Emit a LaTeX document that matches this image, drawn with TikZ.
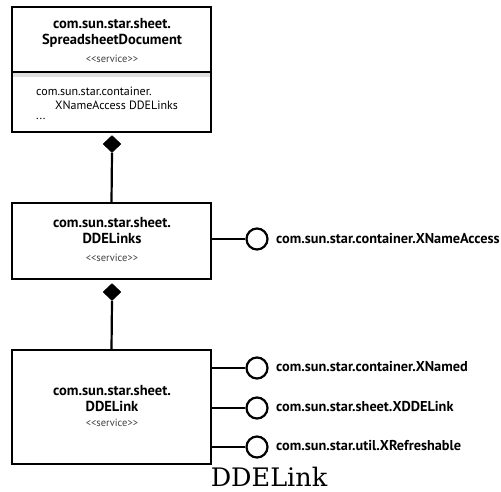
\documentclass[tikz,border=0pt]{standalone}
\usepackage{fontspec}
\setmainfont{PT Sans}
\newfontfamily\capfont{DejaVu Serif}
\usetikzlibrary{shapes.geometric}
\newcommand{\stereotxt}{<\kern0pt<service>\kern0pt>}
\begin{document}
\begin{tikzpicture}[x=1pt,y=-1pt,
  box/.style={draw=black,line width=1.6pt,fill=white,rectangle,minimum width=199pt,inner sep=0pt},
  ttl/.style={font=\fontsize{14.5}{16}\selectfont\bfseries,align=center,inner sep=0pt},
  stereo/.style={font=\fontsize{10.5}{12}\selectfont,text=black!75,inner sep=0pt},
  attr/.style={font=\fontsize{12}{14}\selectfont,inner sep=0pt,anchor=west},
  comp/.style={diamond,fill=black,draw=black,minimum width=18pt,minimum height=17pt,inner sep=0pt},
  conn/.style={line width=2.2pt},
  iface/.style={circle,draw=black,line width=2.2pt,fill=white,minimum size=21pt,inner sep=0pt},
  ilabel/.style={font=\fontsize{14.3}{16}\selectfont\bfseries,anchor=west,inner sep=0pt}]
\useasboundingbox (0,0) rectangle (501,491);
% top box
\node[box,minimum height=125pt] (top) at (111.5,69.5) {};
\fill[black!12] (12.8,72.8) rectangle (210.2,77);
\draw[line width=1.6pt] (top.west |- 0,72) coordinate (dl) -- (top.east |- 0,72) coordinate (dr);
\node[ttl] (topt) at (112,33) {com.sun.star.sheet.\\SpreadsheetDocument};
\node[stereo] (tops) at (112,59) {\stereotxt};
\node[attr] (a1) at (36,91) {com.sun.star.container.};
\node[attr] (a2) at (55,105) {XNameAccess DDELinks};
\node[attr] (a3) at (36,119) {...};
% diamond 1
\node[comp] (d1) at (112,144) {};
% middle box
\node[box,minimum height=76pt] (mid) at (111.5,241) {};
\node[ttl] (midt) at (112,231) {com.sun.star.sheet.\\DDELinks};
\node[stereo] (mids) at (112,258) {\stereotxt};
\draw[conn] (d1.south) -- (mid.north);
% diamond 2
\node[comp] (d2) at (112,292) {};
% bottom box
\node[box,minimum height=114pt] (bot) at (111.5,407) {};
\node[ttl] (bott) at (112,398) {com.sun.star.sheet.\\DDELink};
\node[stereo] (bots) at (112,423) {\stereotxt};
\draw[conn] (d2.south) -- (bot.north);
% interfaces
\node[iface] (i1) at (257,239) {};
\node[ilabel] (l1) at (276,239) {com.sun.star.container.XNameAccess};
\draw[conn] (mid.east |- i1) -- (i1.west);
\node[iface] (i2) at (257,368) {};
\node[ilabel] (l2) at (276,367) {com.sun.star.container.XNamed};
\draw[conn] (bot.east |- i2) -- (i2.west);
\node[iface] (i3) at (257,408) {};
\node[ilabel] (l3) at (276,407) {com.sun.star.sheet.XDDELink};
\draw[conn] (bot.east |- i3) -- (i3.west);
\node[iface] (i4) at (257,447) {};
\node[ilabel] (l4) at (276,446) {com.sun.star.util.XRefreshable};
\draw[conn] (bot.east |- i4) -- (i4.west);
% caption
\node[font=\capfont\fontsize{25.5}{28}\selectfont,inner sep=0pt,text depth=0pt,anchor=base] (cap) at (269,486) {DDELink};
\end{tikzpicture}
\end{document}
